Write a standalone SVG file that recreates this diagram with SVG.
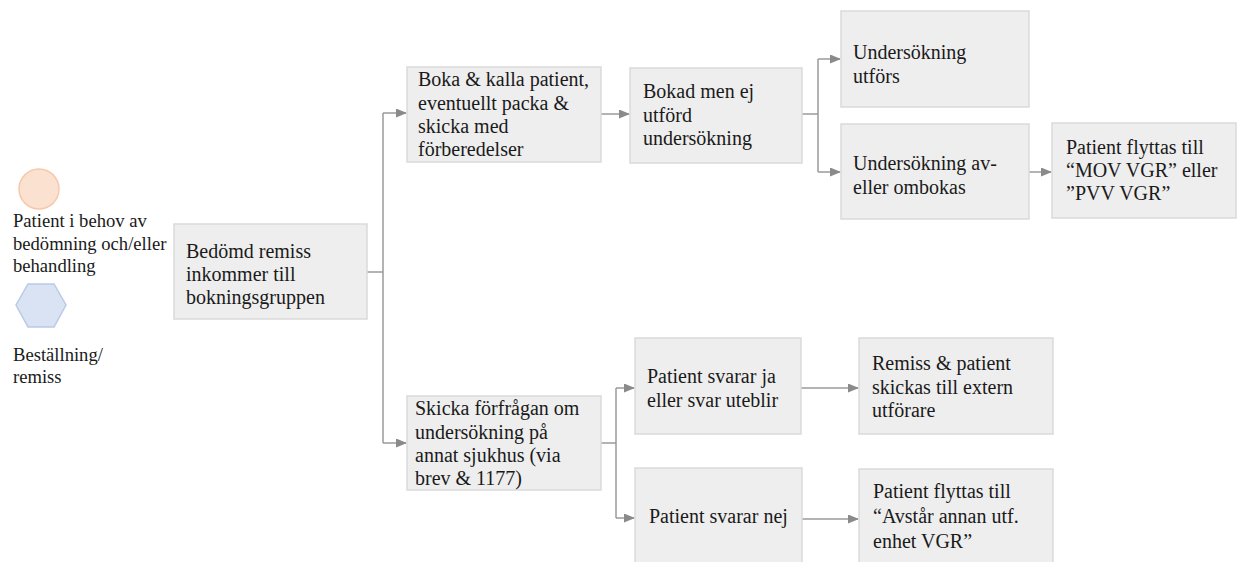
<svg xmlns="http://www.w3.org/2000/svg" width="1239" height="562" viewBox="0 0 1239 562">
<style>
.box{fill:#eeeeee;stroke:#dadada;stroke-width:1.5}
.t{font-family:"Liberation Serif","Times New Roman","DejaVu Serif",serif;font-size:20px;fill:#1a1a1a}
.lg{font-family:"Liberation Serif","Times New Roman","DejaVu Serif",serif;font-size:18.6px;fill:#1a1a1a}
.c{fill:none;stroke:#9a9a9a;stroke-width:1.5}
</style>
<defs>
<marker id="ah" markerUnits="userSpaceOnUse" markerWidth="11" markerHeight="9" refX="10" refY="4.5" orient="auto">
<path d="M0,0 L11,4.5 L0,9 Z" fill="#8a8a8a"/>
</marker>
</defs>
<rect width="1239" height="562" fill="#ffffff"/>
<g id="legend">
<circle cx="39" cy="189" r="20" fill="#fbe1d0" stroke="#f6c9ac" stroke-width="1.5"/>
<text class="lg" x="13" y="227">Patient i behov av</text>
<text class="lg" x="13" y="250">bedömning och/eller</text>
<text class="lg" x="13" y="272">behandling</text>
<polygon points="16,305 28,284 54,284 66,305 54,327 28,327" fill="#dae3f3" stroke="#b9cae8" stroke-width="1.5"/>
<text class="lg" x="13" y="361">Beställning/</text>
<text class="lg" x="13" y="383">remiss</text>
</g>
<g id="connectors">
<path class="c" d="M367,272 H383"/>
<path class="c" d="M383,113 V443"/>
<path class="c" d="M383,113 H406" marker-end="url(#ah)"/>
<path class="c" d="M383,443 H406" marker-end="url(#ah)"/>
<path class="c" d="M601,114 H629" marker-end="url(#ah)"/>
<path class="c" d="M802,114 H818 M818,59 V172"/>
<path class="c" d="M818,59 H840" marker-end="url(#ah)"/>
<path class="c" d="M818,172 H840" marker-end="url(#ah)"/>
<path class="c" d="M1029,172 H1051" marker-end="url(#ah)"/>
<path class="c" d="M601,443 H616 M616,388 V518"/>
<path class="c" d="M616,388 H634" marker-end="url(#ah)"/>
<path class="c" d="M616,518 H634" marker-end="url(#ah)"/>
<path class="c" d="M801,388 H858" marker-end="url(#ah)"/>
<path class="c" d="M802,519 H858" marker-end="url(#ah)"/>
</g>
<g id="n1">
<rect class="box" x="174" y="224" width="193" height="95"/>
<text class="t" x="186" y="258">Bedömd remiss</text>
<text class="t" x="186" y="281">inkommer till</text>
<text class="t" x="186" y="304">bokningsgruppen</text>
</g>
<g id="n2">
<rect class="box" x="407" y="67" width="194" height="95"/>
<text class="t" x="418" y="86">Boka &amp; kalla patient,</text>
<text class="t" x="418" y="110">eventuellt packa &amp;</text>
<text class="t" x="418" y="133">skicka med</text>
<text class="t" x="418" y="156">förberedelser</text>
</g>
<g id="n3">
<rect class="box" x="630" y="68" width="172" height="95"/>
<text class="t" x="643" y="98">Bokad men ej</text>
<text class="t" x="643" y="122">utförd</text>
<text class="t" x="643" y="145">undersökning</text>
</g>
<g id="n4">
<rect class="box" x="841" y="11" width="188" height="96"/>
<text class="t" x="853" y="59">Undersökning</text>
<text class="t" x="853" y="83">utförs</text>
</g>
<g id="n5">
<rect class="box" x="841" y="124" width="188" height="95"/>
<text class="t" x="853" y="170">Undersökning av-</text>
<text class="t" x="853" y="194">eller ombokas</text>
</g>
<g id="n6">
<rect class="box" x="1052" y="123" width="184" height="95"/>
<text class="t" x="1066" y="154">Patient flyttas till</text>
<text class="t" x="1066" y="177">“MOV VGR” eller</text>
<text class="t" x="1066" y="200">”PVV VGR”</text>
</g>
<g id="n7">
<rect class="box" x="407" y="396" width="194" height="94"/>
<text class="t" x="415" y="415">Skicka förfrågan om</text>
<text class="t" x="415" y="439">undersökning på</text>
<text class="t" x="415" y="462">annat sjukhus (via</text>
<text class="t" x="415" y="485">brev &amp; 1177)</text>
</g>
<g id="n8">
<rect class="box" x="635" y="338" width="166" height="96"/>
<text class="t" x="647" y="383">Patient svarar ja</text>
<text class="t" x="647" y="407">eller svar uteblir</text>
</g>
<g id="n9">
<rect class="box" x="635" y="468" width="167" height="100"/>
<text class="t" x="649" y="523">Patient svarar nej</text>
</g>
<g id="n10">
<rect class="box" x="859" y="338" width="194" height="96"/>
<text class="t" x="872" y="370">Remiss &amp; patient</text>
<text class="t" x="872" y="394">skickas till extern</text>
<text class="t" x="872" y="417">utförare</text>
</g>
<g id="n11">
<rect class="box" x="859" y="469" width="194" height="100"/>
<text class="t" x="873" y="498">Patient flyttas till</text>
<text class="t" x="873" y="523">“Avstår annan utf.</text>
<text class="t" x="873" y="548">enhet VGR”</text>
</g>
</svg>
